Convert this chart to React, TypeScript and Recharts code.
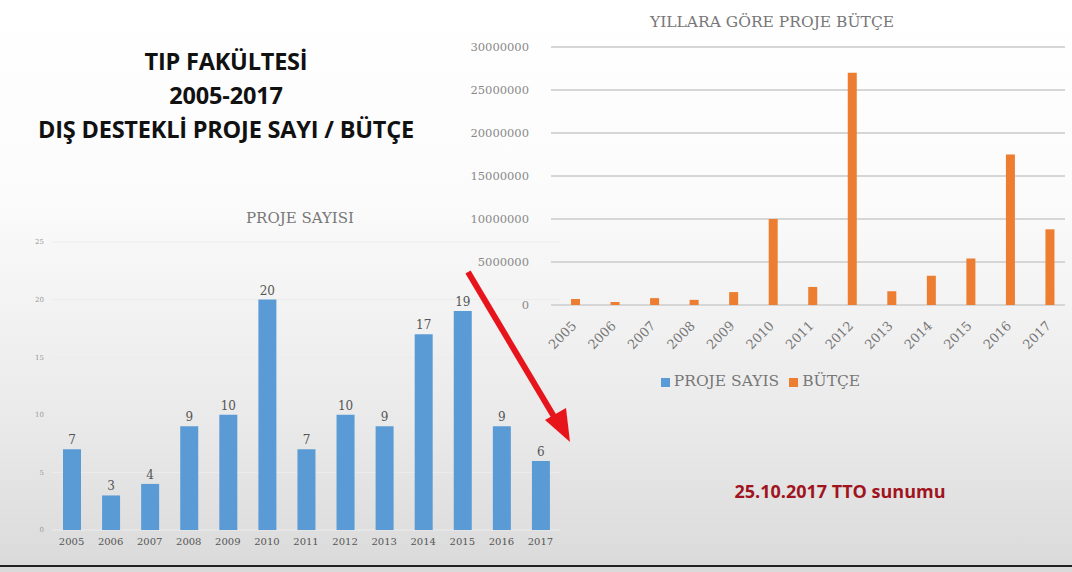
import { BarChart, Bar, XAxis, YAxis, CartesianGrid, Legend, LabelList } from 'recharts';

const years = ['2005', '2006', '2007', '2008', '2009', '2010', '2011', '2012', '2013', '2014', '2015', '2016', '2017'];
const projectCounts = [7, 3, 4, 9, 10, 20, 7, 10, 9, 17, 19, 9, 6];
const budgets = [700000, 350000, 800000, 600000, 1500000, 10000000, 2100000, 27000000, 1600000, 3400000, 5400000, 17500000, 8800000];
const countTicks = [0, 5, 10, 15, 20, 25];
const budgetTicks = [0, 5000000, 10000000, 15000000, 20000000, 25000000, 30000000];
const legendOrder = ['count', 'budget'];

const rows = years.map((year, i) => ({ year, count: projectCounts[i], budget: budgets[i] }));

const serif = '"DejaVu Serif", "Liberation Serif", serif';
const sans = '"Open Sans", "Liberation Sans", sans-serif';

export default function App() {
  return (
    <div
      style={{
        position: 'absolute',
        left: 0,
        top: 0,
        width: 1072,
        height: 572,
        overflow: 'hidden',
        background: 'linear-gradient(to bottom, #ffffff 0%, #fbfbfb 35%, #e9e9e9 75%, #dadada 100%)',
      }}
    >
      {/* slide heading */}
      <div
        style={{
          position: 'absolute',
          left: 0,
          top: 44,
          width: 452,
          textAlign: 'center',
          fontFamily: sans,
          fontWeight: 700,
          fontSize: 23.5,
          lineHeight: '34px',
          color: '#111',
          letterSpacing: -0.2,
        }}
      >
        <div>TIP FAKÜLTESİ</div>
        <div>2005-2017</div>
        <div>DIŞ DESTEKLİ PROJE SAYI / BÜTÇE</div>
      </div>

      {/* left chart */}
      <div style={{ position: 'absolute', left: 0, top: 200, width: 575, height: 365 }}>
        <div
          style={{
            position: 'absolute',
            left: 0,
            top: 9,
            width: 600,
            textAlign: 'center',
            fontFamily: serif,
            fontSize: 15,
            color: '#777',
          }}
        >
          PROJE SAYISI
        </div>
        <BarChart width={575} height={365} data={rows} margin={{ top: 42, right: 15, bottom: 15, left: 12 }}>
          <CartesianGrid vertical={false} stroke="#ececec" />
          <XAxis
            dataKey="year"
            axisLine={false}
            tickLine={false}
            height={20}
            tick={{ fontSize: 10, fontFamily: serif, fill: '#555' }}
          />
          <YAxis
            domain={[0, 25]}
            ticks={countTicks}
            width={40}
            axisLine={false}
            tickLine={false}
            tick={{ fontSize: 7, fontFamily: serif, fill: '#999' }}
          />
          <Bar dataKey="count" fill="#5b9bd5" barSize={18} isAnimationActive={false}>
            <LabelList dataKey="count" position="top" style={{ fontSize: 12, fontFamily: serif, fill: '#555' }} />
          </Bar>
        </BarChart>
      </div>

      {/* right chart */}
      <div style={{ position: 'absolute', left: 460, top: 0, width: 612, height: 400 }}>
        <div
          style={{
            position: 'absolute',
            left: 77,
            top: 13,
            width: 470,
            textAlign: 'center',
            fontFamily: serif,
            fontSize: 15.5,
            color: '#777',
          }}
        >
          YILLARA GÖRE PROJE BÜTÇE
        </div>
        <BarChart width={612} height={400} data={rows} margin={{ top: 47, right: 7, bottom: 10, left: 6 }} barGap={0}>
          <CartesianGrid vertical={false} stroke="#d6d6d6" strokeWidth={2} />
          <XAxis
            dataKey="year"
            axisLine={false}
            tickLine={false}
            height={67}
            interval={0}
            angle={-45}
            textAnchor="end"
            tickMargin={9}
            tick={{ fontSize: 13, fontFamily: serif, fill: '#777' }}
          />
          <YAxis
            domain={[0, 30000000]}
            ticks={budgetTicks}
            width={85}
            axisLine={false}
            tickLine={false}
            tick={{ fontSize: 11.5, fontFamily: serif, fill: '#888', dx: -14 }}
          />
          <Legend
            iconType="square"
            iconSize={9}
            itemSorter={(item: any) => legendOrder.indexOf(item.dataKey)}
            formatter={(value: string) => <span style={{ color: '#777' }}>{value}</span>}
            wrapperStyle={{ fontFamily: serif, fontSize: 15.5 }}
          />
          <Bar dataKey="count" name="PROJE SAYIS" fill="#5b9bd5" barSize={9} isAnimationActive={false} />
          <Bar dataKey="budget" name="BÜTÇE" fill="#ed7d31" barSize={9} isAnimationActive={false} />
        </BarChart>
      </div>

      {/* arrow */}
      <svg style={{ position: 'absolute', left: 0, top: 0 }} width={1072} height={572}>
        <line x1={468} y1={272} x2={556} y2={420} stroke="#e8141b" strokeWidth={6} />
        <polygon points="570,442 545,420 566,408" fill="#e8141b" />
      </svg>

      <div
        style={{
          position: 'absolute',
          left: 690,
          top: 479,
          width: 300,
          textAlign: 'center',
          fontFamily: sans,
          fontWeight: 700,
          fontSize: 18,
          color: '#a0141e',
        }}
      >
        25.10.2017 TTO sunumu
      </div>

      <div style={{ position: 'absolute', left: 0, top: 565, width: 1072, height: 2, background: '#222' }} />
    </div>
  );
}
